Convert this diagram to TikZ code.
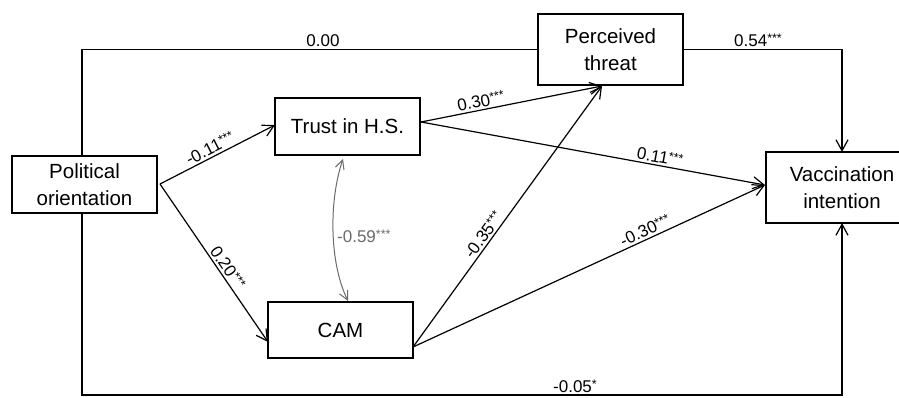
\documentclass[tikz,border=0pt]{standalone}
\usepackage{fontspec}
\setmainfont{Liberation Sans}
\usetikzlibrary{arrows.meta}
\definecolor{corrgray}{HTML}{6B6B6B}
\newcommand\sig[1]{\raisebox{0.45ex}{\fontsize{12.5}{12}\selectfont #1}}
\begin{document}
\begin{tikzpicture}[x=1pt,y=-1pt,
  box/.style={draw, line width=1.2pt, minimum width=145pt, inner sep=0pt, align=center,
    font=\fontsize{20.5}{27}\selectfont},
  conn/.style={line width=1.2pt, -{Straight Barb[length=11pt,width=12pt,line width=1.2pt]}},
  plainline/.style={line width=1.2pt},
  corr/.style={line width=1pt, draw=corrgray,
    {Straight Barb[length=9pt,width=9pt,line width=1pt]}-{Straight Barb[length=9pt,width=9pt,line width=1pt]}},
  lab/.style={font=\fontsize{17}{20}\selectfont, inner sep=2pt},
]
\clip (0,0) rectangle (899,397);
\fill[white] (0,0) rectangle (899,397);

% boxes
\node[box, minimum height=57pt] (PO) at (84.5,184.5) {Political\\orientation};
\node[box, minimum height=57pt] (TR) at (347.5,126.5) {Trust in H.S.};
\node[box, minimum height=56pt] (CAM) at (340.5,330) {CAM};
\node[box, minimum height=71pt] (PT) at (610.5,49.5) {Perceived\\threat};
\node[box, minimum height=71pt, minimum width=152pt] (VI) at (842,187.5) {Vaccination\\intention};

% anchor coordinates
\coordinate (POr) at (160,184);
\coordinate (POt) at (82,156);
\coordinate (POb) at (82,213);
\coordinate (TRr) at (421,122);
\coordinate (TRin) at (275,125);
\coordinate (CAMin) at (268,342);
\coordinate (CAMr) at (413,347);
\coordinate (PTin) at (602,86);
\coordinate (VIin) at (765,185);
\coordinate (VIt) at (842,152);
\coordinate (VIb) at (842,223);
\coordinate (botcorner) at (82,395);
\coordinate (TRb) at (343,159);
\coordinate (CAMt) at (348,301);

% outer paths
\draw[plainline] (POt) |- (PT.west);
\draw[conn] (PT.east) -| (VIt);
\draw[conn] (POb) -- (botcorner) -| (VIb);
\node[lab] (l1) at (323,41) {0.00};
\node[lab] (l2) at (758,40) {0.54\sig{***}};
\node[lab] (l3) at (575,386) {-0.05\sig{*}};

% direct paths
\draw[conn] (POr) -- node[lab, pos=0.47, above, sloped] {-0.11\sig{***}} (TRin);
\draw[conn] (POr) -- node[lab, pos=0.56, above, sloped] {0.20\sig{***}} (CAMin);
\draw[conn] (TRr) -- node[lab, pos=0.34, above, sloped] {0.30\sig{***}} (PTin);
\draw[conn] (TRr) -- node[lab, pos=0.69, above, sloped] {0.11\sig{***}} (VIin);
\draw[conn] (CAMr) -- node[lab, pos=0.41, above, sloped] {-0.35\sig{***}} (PTin);
\draw[conn] (CAMr) -- node[lab, pos=0.67, above, sloped] {-0.30\sig{***}} (VIin);

% correlation
\draw[corr] (TRb) .. controls (329,200) and (329,262) .. (CAMt);
\node[lab, text=corrgray, anchor=west] (l4) at (335,236) {-0.59\sig{***}};
\end{tikzpicture}
\end{document}
